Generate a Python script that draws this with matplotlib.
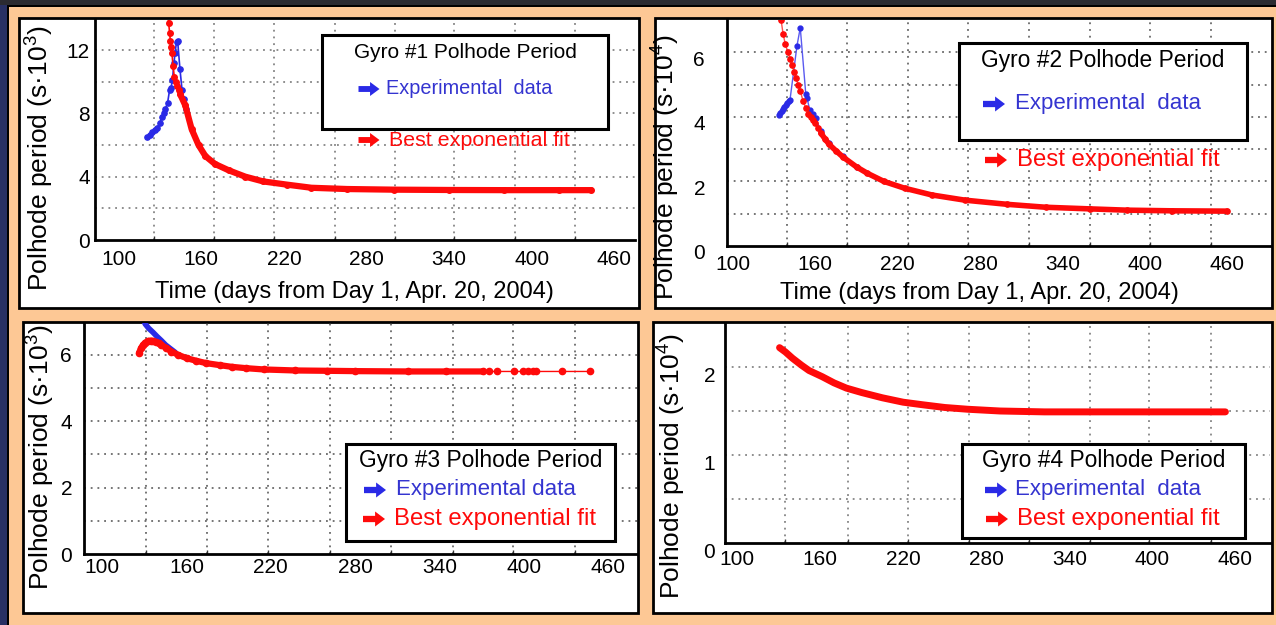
"""
Polhode period of the four gyroscopes vs. time, with the exponential fits.
"""

import matplotlib.pyplot as plt
from matplotlib.patches import Rectangle, FancyArrow
from matplotlib.transforms import ScaledTranslation, IdentityTransform

plt.rcParams['font.family'] = ['Liberation Sans', 'DejaVu Sans']
plt.rcParams['mathtext.default'] = 'regular'

W, H = 1276, 625
PEACH = '#fdc895'
BLUE = '#2a2ae6'
RED = '#ff0a0a'
TXT_BLUE = '#3434d0'

# tick labels on every time axis
day_ticks = [100, 160, 220, 280, 340, 400, 460]

# Gyro #1, period in 10^3 s
g1_exp_day = [120.7, 122.5, 124.5, 126.5, 128.1, 130.0, 131.4, 132.6, 134.0, 135.5,
              137.0, 138.0, 139.0, 140.2, 140.9, 142.0, 142.8, 144.5, 146.0, 147.4, 149.0]
g1_exp_val = [6.5, 6.65, 6.8, 6.95, 7.1, 7.4, 7.8, 8.0, 8.3, 8.65,
              9.5, 9.6, 10.1, 11.2, 11.8, 12.5, 12.6, 10.8, 9.5, 8.9, 8.3]
g1_fit_day = [135.0, 135.7, 136.3, 137.0, 137.5, 138.1, 138.7, 139.5, 140.4, 141.4,
              142.5, 143.6, 144.7, 148.4, 153.0, 158.0, 163.0, 170.0, 180.0, 192.0,
              205.0, 222.0, 240.0, 266.0, 300.0, 340.0, 380.0, 420.0, 443.0]
g1_fit_val = [15.0, 14.3, 13.7, 13.1, 12.6, 12.2, 11.8, 11.0, 10.3, 10.0,
              9.7, 9.45, 9.2, 8.5, 7.0, 6.0, 5.3, 4.8, 4.4, 4.0,
              3.7, 3.5, 3.3, 3.22, 3.18, 3.16, 3.15, 3.15, 3.15]

# Gyro #2, period in 10^4 s
g2_exp_day = [133.5, 134.5, 135.5, 136.5, 137.5, 138.5, 139.5, 140.5, 141.5, 146.6,
              149.0, 153.0, 154.0, 156.0, 158.0, 160.5, 164.0, 170.0, 180.0, 190.0]
g2_exp_val = [4.05, 4.12, 4.18, 4.24, 4.3, 4.36, 4.42, 4.48, 4.52, 6.2,
              6.76, 4.72, 4.57, 4.2, 4.08, 3.95, 3.55, 3.2, 2.78, 2.45]
g2_fit_day = [135.0, 136.5, 138.0, 140.0, 141.5, 143.0, 144.5, 146.0, 147.5, 149.0,
              151.0, 153.0, 155.0, 156.5, 158.0, 160.0, 162.0, 164.0, 167.0, 170.0,
              175.0, 180.0, 190.0, 198.0, 210.0, 225.0, 245.0, 269.0, 300.0, 328.0,
              360.0, 387.0, 420.0, 460.0]
g2_fit_val = [7.0, 6.57, 6.27, 6.0, 5.8, 5.6, 5.4, 5.19, 5.0, 4.8,
              4.5, 4.28, 4.1, 4.0, 3.9, 3.8, 3.65, 3.5, 3.32, 3.15,
              2.95, 2.76, 2.45, 2.25, 2.0, 1.79, 1.58, 1.42, 1.29, 1.2,
              1.15, 1.11, 1.09, 1.08]

# Gyro #3, period in 10^3 s
g3_exp_day = [129.5, 130.5, 133.0, 136.0, 139.0, 142.0, 145.0, 148.0, 152.0]
g3_exp_val = [7.05, 6.93, 6.8, 6.68, 6.55, 6.43, 6.3, 6.2, 6.07]
g3_fit_day = [126.1, 127.5, 128.9, 130.5, 132.5, 134.5, 136.0, 138.0, 140.0, 142.0,
              145.0, 149.2, 154.0, 160.0, 167.0, 174.0, 183.6, 192.0, 202.0, 215.0,
              237.0, 260.0, 280.0, 318.0, 345.0, 371.0, 375.3, 381.0, 393.1, 399.5,
              403.0, 406.6, 408.7, 427.3, 447.2]
g3_fit_val = [6.06, 6.2, 6.3, 6.37, 6.42, 6.43, 6.42, 6.39, 6.35, 6.3,
              6.22, 6.1, 6.0, 5.9, 5.82, 5.75, 5.69, 5.64, 5.6, 5.56,
              5.53, 5.52, 5.51, 5.5, 5.5, 5.5, 5.5, 5.5, 5.5, 5.5,
              5.5, 5.5, 5.5, 5.5, 5.5]

# Gyro #4, period in 10^4 s
g4_fit_day = [130.7, 135.0, 140.0, 146.6, 152.0, 161.5, 170.0, 179.0, 190.0, 205.0,
              220.0, 234.5, 250.0, 266.5, 290.0, 322.0, 350.0, 380.6, 420.0, 452.8]
g4_fit_val = [2.22, 2.17, 2.1, 2.02, 1.96, 1.89, 1.82, 1.76, 1.71, 1.65,
              1.6, 1.57, 1.54, 1.52, 1.5, 1.49, 1.49, 1.49, 1.49, 1.49]


def fig_rect(fig, l, t, r, b, face, edge='black', lw=2.0, z=-1):
    rect = Rectangle((l / W, 1 - b / H), (r - l) / W, (b - t) / H,
                     transform=fig.transFigure, facecolor=face,
                     edgecolor=edge, lw=lw, zorder=z)
    fig.patches.append(rect)


def fig_text(fig, x, y, s, size, color='black', ha='left', **kw):
    fig.text(x / W, 1 - y / H, s, fontsize=size, color=color,
             ha=ha, va='center', zorder=10, **kw)


def fig_arrow(fig, xc, yc, color, length=22, height=15):
    # heavy right-pointing arrow, sized in pixels
    arr = FancyArrow(xc - length / 2, H - yc, length, 0, width=height * 0.42,
                     head_width=height, head_length=length * 0.45,
                     length_includes_head=True, color=color, lw=0,
                     transform=IdentityTransform(), zorder=10)
    fig.add_artist(arr)


def make_axes(fig, l, t, r, b, xlim, ylim, yticks, xgrid, ygrid,
              xpad, ypad, yshift=0, grid_color='#505050'):
    ax = fig.add_axes([l / W, 1 - b / H, (r - l) / W, (b - t) / H])
    ax.set_facecolor('none')
    ax.set_xlim(*xlim)
    ax.set_ylim(*ylim)
    ax.set_xticks(day_ticks)
    ax.set_xticks(xgrid, minor=True)
    ax.set_yticks(yticks)
    ax.set_yticks(ygrid, minor=True)
    ax.yaxis.remove_overlapping_locs = False
    ax.tick_params(which='major', length=0, labelsize=15)
    ax.tick_params(axis='x', which='major', pad=xpad)
    ax.tick_params(axis='y', which='major', pad=ypad)
    ax.tick_params(axis='x', which='minor', direction='in', length=3,
                   width=1, color='#333333')
    ax.tick_params(axis='y', which='minor', length=0)
    ax.grid(True, axis='x', which='minor', color=grid_color,
            linestyle=(0, (1.2, 3.2)), lw=1.1)
    ax.grid(True, axis='y', which='minor', color=grid_color,
            linestyle=(0, (1.2, 3.2)), lw=1.1)
    for side in ('top', 'right'):
        ax.spines[side].set_visible(False)
    for side in ('left', 'bottom'):
        ax.spines[side].set_linewidth(2)
    if yshift:
        off = ScaledTranslation(0, -yshift / 100, fig.dpi_scale_trans)
        for lab in ax.get_yticklabels():
            lab.set_transform(lab.get_transform() + off)
    return ax


def legend_block(fig, l, t, r, b, title, tsize, rows, asize=(22, 15)):
    fig_rect(fig, l, t, r, b, 'white', lw=2.2, z=5)
    fig_text(fig, (l + r) / 2, t + 17, title, tsize, ha='center')
    for ax_x, tx_x, y, text, size, color, acolor in rows:
        fig_arrow(fig, ax_x, y, acolor, *asize)
        fig_text(fig, tx_x, y, text, size, color=color)


def subset(days, vals, keep):
    idx = [i for i, d in enumerate(days) if keep(d)]
    return [days[i] for i in idx], [vals[i] for i in idx]


fig = plt.figure(figsize=(W / 100, H / 100), dpi=100)
fig.patch.set_facecolor(PEACH)

# dark slide frame on the top and left
fig_rect(fig, 0, 0, 9, H, '#283063', edge='none', lw=0, z=-3)
fig_rect(fig, 0, 0, W, 5, '#2b2b31', edge='none', lw=0, z=-3)
fig_rect(fig, 7, 5, 9, H, 'black', edge='none', lw=0, z=-2)
fig_rect(fig, 7, 5, W, 7, 'black', edge='none', lw=0, z=-2)

# white panels
fig_rect(fig, 19, 18, 639, 308, 'white')
fig_rect(fig, 655, 18, 1272, 308, 'white')
fig_rect(fig, 23, 322, 638, 613, 'white')
fig_rect(fig, 653, 322, 1272, 613, 'white')

ylab1 = 'Polhode period (s\u00b710$^3$)'
ylab2 = 'Polhode period (s\u00b710$^4$)'
xlab = 'Time (days from Day 1, Apr. 20, 2004)'

# --- Gyro #1 ---
ax1 = make_axes(fig, 95, 20, 635, 240, (82.8, 475.0), (0, 13.9), [0, 4, 8, 12],
                [125.9, 169.5, 213.1, 257.4, 301.0, 343.9, 388.1, 431.7],
                [2, 4, 6, 8, 10, 12], xpad=7.2, ypad=3.6, grid_color='#707070')
ax1.plot(g1_exp_day, g1_exp_val, color=BLUE, lw=1.2, marker='o', ms=3.8, zorder=3)
ax1.plot(g1_fit_day, g1_fit_val, color=RED, lw=1.2, marker='o', ms=4, zorder=4)
x, y = subset(g1_fit_day, g1_fit_val, lambda d: d >= 144.7)
ax1.plot(x, y, color=RED, lw=4.5, solid_capstyle='round', zorder=4)
ax1.set_ylabel(ylab1, fontsize=19, ha='center', va='center')
ax1.yaxis.set_label_coords(-0.102, 0.373)
ax1.set_xlabel(xlab, fontsize=17, ha='center', va='center')
ax1.xaxis.set_label_coords(0.481, -0.236)

# --- Gyro #2 ---
ax2 = make_axes(fig, 727, 20, 1270, 246, (95.6, 491.4), (0, 7.0), [0, 2, 4, 6],
                [139.4, 183.1, 227.6, 271.4, 315.7, 360.2, 403.9, 448.4],
                [1, 2, 3, 4, 5, 6], xpad=6.5, ypad=15.8, yshift=6)
ax2.plot(g2_exp_day, g2_exp_val, color='#5a5af0', lw=1, marker='o', ms=3.5,
         mfc=BLUE, mec=BLUE, zorder=3)
ax2.plot(g2_fit_day, g2_fit_val, color='#ff5050', lw=1, marker='o', ms=3.8,
         mfc=RED, mec=RED, zorder=4)
x, y = subset(g2_fit_day, g2_fit_val, lambda d: d >= 164)
ax2.plot(x, y, color=RED, lw=4, solid_capstyle='round', zorder=4)
ax2.set_ylabel(ylab2, fontsize=19, ha='center', va='center')
ax2.yaxis.set_label_coords(-0.112, 0.350)
ax2.set_xlabel(xlab, fontsize=17, ha='center', va='center')
ax2.xaxis.set_label_coords(0.464, -0.208)

# --- Gyro #3 ---
ax3 = make_axes(fig, 84, 323, 637, 554, (86.9, 480.8), (0, 6.96), [0, 2, 4, 6],
                [130.9, 174.4, 217.9, 262.1, 305.5, 349.7, 392.5, 436.7],
                [1, 2, 3, 4, 5, 6], xpad=2.9, ypad=8.6)
ax3.plot(g3_exp_day, g3_exp_val, color=BLUE, lw=4, solid_capstyle='round', zorder=3)
ax3.plot(g3_fit_day, g3_fit_val, color=RED, lw=1, marker='o', ms=4.5, zorder=4)
x, y = subset(g3_fit_day, g3_fit_val, lambda d: d <= 371)
ax3.plot(x, y, color=RED, lw=4.5, solid_capstyle='round', zorder=4)
ax3.set_ylabel(ylab1, fontsize=19, ha='center', va='center')
ax3.yaxis.set_label_coords(-0.078, 0.420)

# --- Gyro #4 ---
ax4 = make_axes(fig, 725, 323, 1270, 543, (91.3, 485.0), (0, 2.5), [0, 1, 2],
                [134.3, 179.9, 223.3, 267.4, 310.8, 354.9, 397.5, 442.4],
                [0.5, 1.0, 1.5, 2.0], xpad=5.0, ypad=7.2, yshift=7,
                grid_color='#707070')
ax4.plot(g4_fit_day, g4_fit_val, color=RED, lw=5, solid_capstyle='round', zorder=4)
ax4.set_ylabel(ylab2, fontsize=19, ha='center', va='center')
ax4.yaxis.set_label_coords(-0.097, 0.350)

# legend blocks drawn as slide annotations
legend_block(fig, 322, 35, 608, 129, 'Gyro #1 Polhode Period', 15, [
    (369, 386, 89, 'Experimental  data', 14.3, TXT_BLUE, BLUE),
], asize=(21, 14))
fig_arrow(fig, 369, 140, RED, 21, 14)
fig_text(fig, 389, 140, 'Best exponential fit', 15.4, color=RED)

legend_block(fig, 959, 43, 1247, 140, 'Gyro #2 Polhode Period', 16.4, [
    (994, 1015, 104, 'Experimental  data', 16, TXT_BLUE, BLUE),
])
fig_arrow(fig, 996, 160, RED)
fig_text(fig, 1017, 160, 'Best exponential fit', 17.3, color=RED)

legend_block(fig, 346, 444, 615, 541, 'Gyro #3 Polhode Period', 16.4, [
    (375, 396, 490, 'Experimental data', 16, TXT_BLUE, BLUE),
    (374, 394, 519, 'Best exponential fit', 17.2, RED, RED),
])

legend_block(fig, 962, 444, 1245, 538, 'Gyro #4 Polhode Period', 16.4, [
    (996, 1015, 490, 'Experimental  data', 16, TXT_BLUE, BLUE),
    (997, 1017, 519, 'Best exponential fit', 17.3, RED, RED),
])

fig.savefig('out.png', dpi=100, facecolor=PEACH)
